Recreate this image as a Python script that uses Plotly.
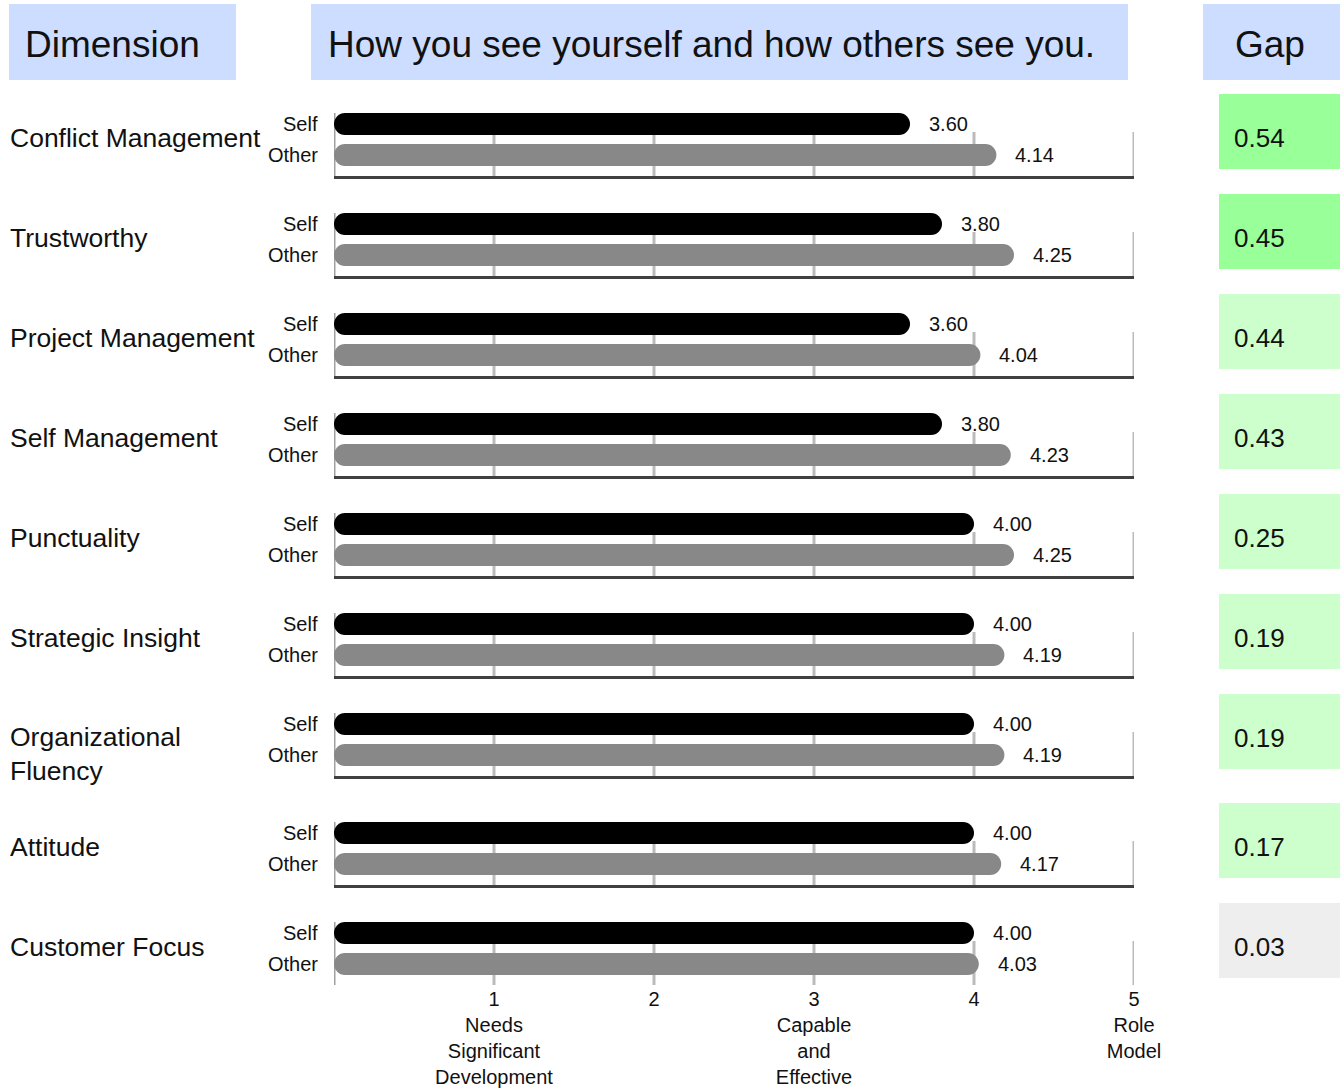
import plotly.graph_objects as go

# ---------------- data ----------------
dimensions = ["Conflict Management", "Trustworthy", "Project Management", "Self Management",
              "Punctuality", "Strategic Insight", "Organizational<br>Fluency", "Attitude",
              "Customer Focus"]
self_scores = [3.60, 3.80, 3.60, 3.80, 4.00, 4.00, 4.00, 4.00, 4.00]
other_scores = [4.14, 4.25, 4.04, 4.23, 4.25, 4.19, 4.19, 4.17, 4.03]
gaps = [0.54, 0.45, 0.44, 0.43, 0.25, 0.19, 0.19, 0.17, 0.03]
tick_vals = [1, 2, 3, 4, 5]
tick_text = ["1<br>Needs<br>Significant<br>Development", "2",
             "3<br>Capable<br>and<br>Effective", "4", "5<br>Role<br>Model"]
headers = ["Dimension", "How you see yourself and how others see you.", "Gap"]

# ---------------- layout constants (pixels) ----------------
W, H = 1342, 1088
X0_PX, X5_PX = 334, 1134
PX_PER_UNIT = (X5_PX - X0_PX) / 5.0
BOTTOM_PX = 985
BAR_W = 22
R_UNITS = (BAR_W / 2) / PX_PER_UNIT
FONT = "Liberation Sans, Arial, sans-serif"


def px(xp):
    return xp / W


row_tops = []
t = 94
for d in dimensions:
    row_tops.append(t)
    t += 100 + 9 * (d.count("<br>"))

shapes = []
annotations = []

header_boxes = [(9, 236, 23), (311, 1128, 326), (1203, 1340, 1233)]
for (x0, x1, tx), txt in zip(header_boxes, headers):
    shapes.append(dict(type="rect", xref="paper", yref="y", x0=px(x0), x1=px(x1), y0=4, y1=80,
                       fillcolor="#CCDDFF", line=dict(width=0), layer="below"))
    annotations.append(dict(xref="paper", yref="y", x=px(tx), y=44, text=txt, showarrow=False,
                            xanchor="left", yanchor="middle",
                            font=dict(family=FONT, size=37, color="#111111")))

self_x, self_y, other_x, other_y = [], [], [], []
for i, (d, s, o, g) in enumerate(zip(dimensions, self_scores, other_scores, gaps)):
    T = row_tops[i]
    ys = T + 30
    yo = T + 61
    yb = T + 83.5
    nl = d.count("<br>")
    annotations.append(dict(xref="paper", yref="y", x=px(8), y=T + 44 + 16 * nl, text=d,
                            showarrow=False, xanchor="left", yanchor="middle", align="left",
                            font=dict(family=FONT, size=26.5, color="#111111")))
    for lab, yy in (("Self", ys), ("Other", yo)):
        annotations.append(dict(xref="paper", yref="y", x=px(320), y=yy, text=lab,
                                showarrow=False, xanchor="right", yanchor="middle",
                                font=dict(family=FONT, size=20, color="#111111")))
    for v, yy in ((s, ys), (o, yo)):
        annotations.append(dict(xref="x", yref="y", x=v, y=yy, text=f"{v:.2f}",
                                showarrow=False, xanchor="left", yanchor="middle", xshift=17,
                                font=dict(family=FONT, size=20, color="#111111")))
    for gv in tick_vals:
        shapes.append(dict(type="line", xref="x", yref="y", x0=gv, x1=gv, y0=T + 38, y1=yb,
                           line=dict(color="#BBBBBB", width=3), layer="below"))
    shapes.append(dict(type="line", xref="x", yref="y", x0=0, x1=0, y0=T + 19, y1=yb,
                       line=dict(color="#A0A0A0", width=3), layer="below"))
    shapes.append(dict(type="line", xref="x", yref="y", x0=0, x1=5, y0=yb, y1=yb,
                       line=dict(color="#404040", width=3), layer="below"))
    if g >= 0.45:
        col = "#99FF99"
    elif g >= 0.1:
        col = "#CCFFCC"
    else:
        col = "#EEEEEE"
    shapes.append(dict(type="rect", xref="paper", yref="y", x0=px(1219), x1=px(1340),
                       y0=T, y1=T + 75, fillcolor=col, line=dict(width=0), layer="below"))
    annotations.append(dict(xref="paper", yref="y", x=px(1232), y=T + 44,
                            text=f"{g:.2f}", showarrow=False, xanchor="left", yanchor="middle",
                            font=dict(family=FONT, size=26, color="#111111")))
    self_x += [R_UNITS, s - R_UNITS, None]
    self_y += [ys, ys, None]
    other_x += [R_UNITS, o - R_UNITS, None]
    other_y += [yo, yo, None]

fig = go.Figure()
fig.add_trace(go.Scatter(x=other_x, y=other_y, mode="lines+markers", name="Other",
                         line=dict(color="#888888", width=BAR_W),
                         marker=dict(color="#888888", size=BAR_W, line=dict(width=0)),
                         hoverinfo="skip"))
fig.add_trace(go.Scatter(x=self_x, y=self_y, mode="lines+markers", name="Self",
                         line=dict(color="#000000", width=BAR_W),
                         marker=dict(color="#000000", size=BAR_W, line=dict(width=0)),
                         hoverinfo="skip"))

fig.update_layout(
    width=W, height=H, autosize=False,
    margin=dict(l=0, r=0, t=0, b=0, pad=0, autoexpand=False),
    paper_bgcolor="white", plot_bgcolor="white",
    showlegend=False,
    font=dict(family=FONT, color="#111111"),
    xaxis=dict(domain=[px(X0_PX), px(X5_PX)], range=[0, 5], showgrid=False, zeroline=False,
               showline=False, tickmode="array", tickvals=tick_vals, ticktext=tick_text,
               ticks="", automargin=False,
               tickfont=dict(family=FONT, size=20, color="#111111"), fixedrange=True),
    yaxis=dict(domain=[1 - BOTTOM_PX / H, 1], range=[BOTTOM_PX, 0], visible=False,
               automargin=False, fixedrange=True),
    shapes=shapes,
    annotations=annotations,
)

fig.write_html("out.html", config={"responsive": False, "displayModeBar": False},
               post_script="document.body.style.margin='0';")
